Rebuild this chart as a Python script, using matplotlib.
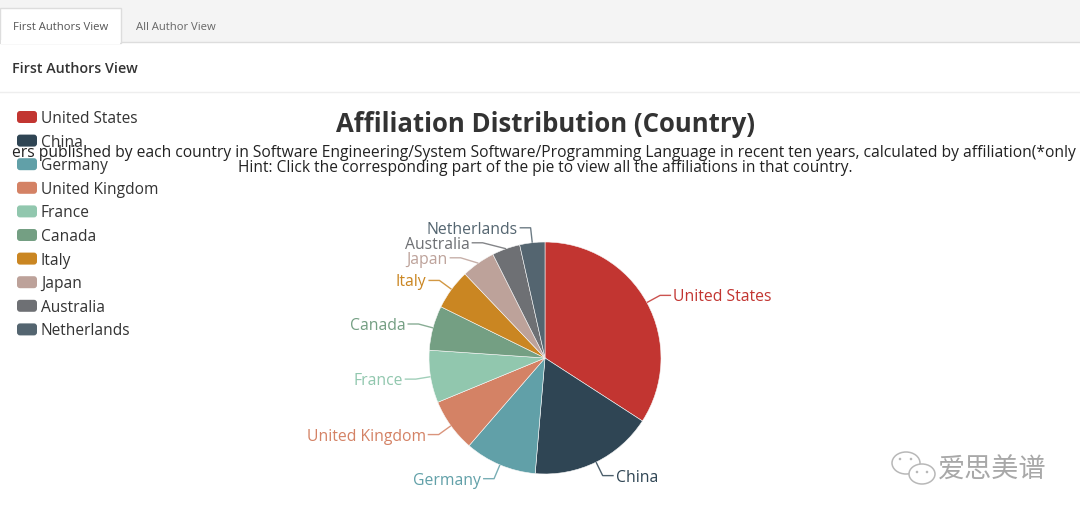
import numpy as np
import matplotlib
matplotlib.use("Agg")
import matplotlib.pyplot as plt
from matplotlib.patches import Rectangle, FancyBboxPatch, Ellipse, Circle

# ---------------- data ----------------
countries = ["United States", "China", "Germany", "United Kingdom", "France",
             "Canada", "Italy", "Japan", "Australia", "Netherlands"]
values = [34.1, 17.2, 10.0, 7.4, 7.3, 6.2, 5.6, 4.7, 3.9, 3.5]
colors = ["#c23531", "#2f4554", "#61a0a8", "#d48265", "#91c7ae",
          "#749f83", "#ca8622", "#bda29a", "#6e7074", "#546570"]
tab_labels = ["First Authors View", "All Author View"]
header = "First Authors View"
title = "Affiliation Distribution (Country)"
subtitle1 = ("ers published by each country in Software Engineering/System Software/"
             "Programming Language in recent ten years, calculated by affiliation(*only")
subtitle2 = "Hint: Click the corresponding part of the pie to view all the affiliations in that country."
watermark = "爱思美谱"

W, H = 1080, 518
FONT = ["Open Sans", "DejaVu Sans"]
plt.rcParams["font.family"] = FONT

fig = plt.figure(figsize=(W / 100, H / 100), dpi=100)
ax = fig.add_axes([0, 0, 1, 1])

TOFF = 2  # text vertical nudge (px)


def Y(y):
    return H - y


def YT(y):
    return H - y - TOFF


# ---------------- page chrome ----------------
ax.add_patch(Rectangle((0, Y(42)), W, 42, facecolor="#f4f4f4", edgecolor="none", zorder=0))
ax.plot([0, W], [Y(42), Y(42)], color="#dddddd", lw=1, zorder=1)
ax.add_patch(Rectangle((0, Y(43)), 121, 35, facecolor="white", edgecolor="#dddddd", lw=1, zorder=1))
ax.add_patch(Rectangle((1, Y(44)), 119, 4, facecolor="white", edgecolor="none", zorder=2))
ax.text(13, YT(25), tab_labels[0], fontsize=8.1, color="#555555", va="center", ha="left", zorder=3)
ax.text(136, YT(25), tab_labels[1], fontsize=8.1, color="#666666", va="center", ha="left", zorder=3)
ax.text(12, YT(67), header, fontsize=10.3, color="#333333", va="center", ha="left",
        fontweight="semibold", zorder=3)
ax.plot([0, W], [Y(92), Y(92)], color="#eeeeee", lw=1, zorder=1)

# ---------------- titles ----------------
ax.text(545, YT(123), title, fontsize=18.5, fontweight="bold", color="#333333",
        ha="center", va="center", zorder=3)
ax.text(544, YT(151), subtitle1, fontsize=11.25, color="#222222", ha="center", va="center", zorder=4)
ax.text(545, YT(166), subtitle2, fontsize=11.2, color="#222222", ha="center", va="center", zorder=4)

# ---------------- legend ----------------
leg_y0, leg_dy = 117, 23.6
for i, (c, col) in enumerate(zip(countries, colors)):
    yy = leg_y0 + i * leg_dy
    ax.add_patch(FancyBboxPatch((17, Y(yy) - 6), 20, 12,
                                boxstyle="round,pad=0,rounding_size=3",
                                facecolor=col, edgecolor="none", zorder=3))
    ax.text(41, YT(yy), c, fontsize=11.2, color="#333333", ha="left", va="center", zorder=3)

# ---------------- pie ----------------
cx, cy, R = 545, 358, 116
ax.pie(values, colors=colors, startangle=90, counterclock=False,
       center=(cx, Y(cy)), radius=R,
       wedgeprops=dict(linewidth=0.4, edgecolor="#f8f8f8"), frame=True)

# labels with label lines (ECharts style)
L1, L2, GAP, MIN_SEP = 15, 11, 2, 15
total = float(sum(values))
cum = np.cumsum([0] + values)
mids = [(cum[i] + cum[i + 1]) / 2 / total * 360 for i in range(len(values))]  # clockwise from top
info = []
for i, m in enumerate(mids):
    a = np.deg2rad(m)
    dx, dy = np.sin(a), -np.cos(a)  # screen coords (y down)
    ex, ey = cx + R * dx, cy + R * dy
    bx, by = cx + (R + L1) * dx, cy + (R + L1) * dy
    info.append(dict(i=i, ex=ex, ey=ey, bx=bx, by=by, right=dx >= 0))

for side in (True, False):
    items = sorted([d for d in info if d["right"] == side], key=lambda d: d["by"])
    prev = -1e9
    for d in items:
        ny = max(d["by"], prev + MIN_SEP)
        if ny != d["by"]:
            off = np.sqrt(max((R + L1) ** 2 - (ny - cy) ** 2, 0))
            d["bx"] = cx + off if side else cx - off
            d["by"] = ny
        prev = d["by"]

for d in info:
    i = d["i"]
    sgn = 1 if d["right"] else -1
    ex2 = d["bx"] + sgn * L2
    ax.plot([d["ex"], d["bx"], ex2], [Y(d["ey"]), Y(d["by"]), Y(d["by"])],
            color=colors[i], lw=1, alpha=0.85, zorder=3, solid_capstyle="butt")
    ax.text(ex2 + sgn * GAP, YT(d["by"]), countries[i], fontsize=11.3, color=colors[i],
            ha="left" if d["right"] else "right", va="center", zorder=3)

# ---------------- watermark ----------------
wm_col = "#b8b8b8"
ax.add_patch(Ellipse((906, Y(463)), 28, 22, facecolor="none", edgecolor=wm_col, lw=1.1, zorder=3))
ax.add_patch(Ellipse((922, Y(474)), 26, 20, facecolor="white", edgecolor=wm_col, lw=1.1, zorder=4))
for px, py in [(900, 459), (911, 459), (917, 472), (927, 472)]:
    ax.add_patch(Circle((px, Y(py)), 1.3, facecolor=wm_col, edgecolor="none", zorder=5))
ax.text(938, Y(470), watermark, fontsize=19.5, color="#a8a8a8", ha="left", va="center",
        family=["Noto Sans CJK SC", "DejaVu Sans"], zorder=3)

ax.set_xlim(0, W)
ax.set_ylim(0, H)
ax.set_aspect("auto")
ax.axis("off")

fig.savefig("out.png", dpi=100, facecolor="white")
